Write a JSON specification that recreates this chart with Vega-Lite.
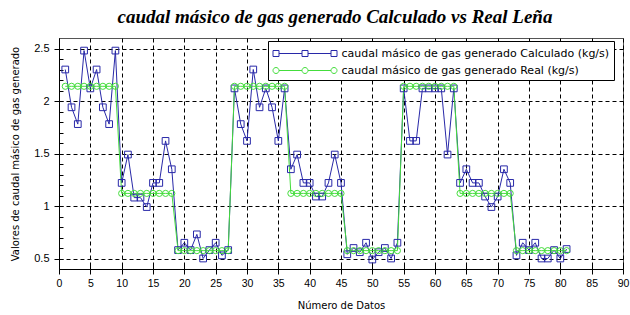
{
  "$schema": "https://vega.github.io/schema/vega-lite/v6.json",
  "width": 564,
  "height": 231,
  "autosize": {"type": "none"},
  "padding": {"left": 59, "top": 38, "right": 7, "bottom": 46},
  "background": "white",
  "title": {
    "text": "caudal másico de gas generado Calculado vs Real Leña",
    "font": "Liberation Serif",
    "fontStyle": "italic",
    "fontWeight": "bold",
    "fontSize": 19,
    "color": "black",
    "anchor": "middle",
    "baseline": "alphabetic",
    "offset": 16,
    "dx": -6,
    "dy": 20
  },
  "config": {
    "view": {"stroke": "#555555", "strokeWidth": 1},
    "axis": {
      "labelFont": "Liberation Sans",
      "labelColor": "black",
      "titleFont": "DejaVu Sans",
      "titleFontWeight": "normal",
      "titleColor": "black",
      "domainColor": "black",
      "tickColor": "black",
      "gridColor": "black",
      "gridOpacity": 1,
      "gridDash": [4, 3],
      "gridWidth": 1
    },
    "legend": {
      "orient": "none",
      "legendX": 209,
      "legendY": 3,
      "title": null,
      "labelFont": "DejaVu Sans",
      "labelFontSize": 11,
      "labelColor": "black",
      "labelLimit": 400,
      "strokeColor": "black",
      "fillColor": "white",
      "padding": 4,
      "rowPadding": 3,
      "symbolSize": 256,
      "symbolOffset": 24.5,
      "labelOffset": 28,
      "symbolStrokeWidth": 1
    }
  },
  "data": {
    "values": [
      {"n": 1, "calc": 2.30, "real": 2.14},
      {"n": 2, "calc": 1.94, "real": 2.14},
      {"n": 3, "calc": 1.78, "real": 2.14},
      {"n": 4, "calc": 2.48, "real": 2.14},
      {"n": 5, "calc": 2.12, "real": 2.14},
      {"n": 6, "calc": 2.30, "real": 2.14},
      {"n": 7, "calc": 1.94, "real": 2.14},
      {"n": 8, "calc": 1.78, "real": 2.14},
      {"n": 9, "calc": 2.48, "real": 2.14},
      {"n": 10, "calc": 1.22, "real": 1.12},
      {"n": 11, "calc": 1.49, "real": 1.12},
      {"n": 12, "calc": 1.08, "real": 1.12},
      {"n": 13, "calc": 1.08, "real": 1.12},
      {"n": 14, "calc": 0.99, "real": 1.12},
      {"n": 15, "calc": 1.22, "real": 1.12},
      {"n": 16, "calc": 1.22, "real": 1.12},
      {"n": 17, "calc": 1.62, "real": 1.12},
      {"n": 18, "calc": 1.35, "real": 1.12},
      {"n": 19, "calc": 0.58, "real": 0.575},
      {"n": 20, "calc": 0.65, "real": 0.575},
      {"n": 21, "calc": 0.58, "real": 0.575},
      {"n": 22, "calc": 0.73, "real": 0.575},
      {"n": 23, "calc": 0.50, "real": 0.575},
      {"n": 24, "calc": 0.58, "real": 0.575},
      {"n": 25, "calc": 0.65, "real": 0.575},
      {"n": 26, "calc": 0.53, "real": 0.575},
      {"n": 27, "calc": 0.58, "real": 0.575},
      {"n": 28, "calc": 2.12, "real": 2.14},
      {"n": 29, "calc": 1.78, "real": 2.14},
      {"n": 30, "calc": 1.62, "real": 2.14},
      {"n": 31, "calc": 2.30, "real": 2.14},
      {"n": 32, "calc": 1.94, "real": 2.14},
      {"n": 33, "calc": 2.12, "real": 2.14},
      {"n": 34, "calc": 1.94, "real": 2.14},
      {"n": 35, "calc": 1.62, "real": 2.14},
      {"n": 36, "calc": 2.12, "real": 2.14},
      {"n": 37, "calc": 1.35, "real": 1.12},
      {"n": 38, "calc": 1.49, "real": 1.12},
      {"n": 39, "calc": 1.22, "real": 1.12},
      {"n": 40, "calc": 1.22, "real": 1.12},
      {"n": 41, "calc": 1.09, "real": 1.12},
      {"n": 42, "calc": 1.09, "real": 1.12},
      {"n": 43, "calc": 1.22, "real": 1.12},
      {"n": 44, "calc": 1.49, "real": 1.12},
      {"n": 45, "calc": 1.22, "real": 1.12},
      {"n": 46, "calc": 0.54, "real": 0.575},
      {"n": 47, "calc": 0.60, "real": 0.575},
      {"n": 48, "calc": 0.56, "real": 0.575},
      {"n": 49, "calc": 0.65, "real": 0.575},
      {"n": 50, "calc": 0.49, "real": 0.575},
      {"n": 51, "calc": 0.56, "real": 0.575},
      {"n": 52, "calc": 0.60, "real": 0.575},
      {"n": 53, "calc": 0.50, "real": 0.575},
      {"n": 54, "calc": 0.65, "real": 0.575},
      {"n": 55, "calc": 2.12, "real": 2.14},
      {"n": 56, "calc": 1.62, "real": 2.14},
      {"n": 57, "calc": 1.62, "real": 2.14},
      {"n": 58, "calc": 2.12, "real": 2.14},
      {"n": 59, "calc": 2.12, "real": 2.14},
      {"n": 60, "calc": 2.12, "real": 2.14},
      {"n": 61, "calc": 2.12, "real": 2.14},
      {"n": 62, "calc": 1.49, "real": 2.14},
      {"n": 63, "calc": 2.12, "real": 2.14},
      {"n": 64, "calc": 1.22, "real": 1.12},
      {"n": 65, "calc": 1.35, "real": 1.12},
      {"n": 66, "calc": 1.22, "real": 1.12},
      {"n": 67, "calc": 1.22, "real": 1.12},
      {"n": 68, "calc": 1.09, "real": 1.12},
      {"n": 69, "calc": 0.99, "real": 1.12},
      {"n": 70, "calc": 1.09, "real": 1.12},
      {"n": 71, "calc": 1.35, "real": 1.12},
      {"n": 72, "calc": 1.22, "real": 1.12},
      {"n": 73, "calc": 0.53, "real": 0.575},
      {"n": 74, "calc": 0.65, "real": 0.575},
      {"n": 75, "calc": 0.58, "real": 0.575},
      {"n": 76, "calc": 0.65, "real": 0.575},
      {"n": 77, "calc": 0.50, "real": 0.575},
      {"n": 78, "calc": 0.50, "real": 0.575},
      {"n": 79, "calc": 0.58, "real": 0.575},
      {"n": 80, "calc": 0.50, "real": 0.575},
      {"n": 81, "calc": 0.59, "real": 0.575}
    ]
  },
  "transform": [
    {"fold": ["calc", "real"], "as": ["serie", "v"]}
  ],
  "layer": [
    {
      "mark": {"type": "line", "strokeWidth": 1},
      "encoding": {
        "x": {
          "field": "n", "type": "quantitative",
          "scale": {"domain": [0, 90], "nice": false, "zero": false},
          "axis": {
            "orient": "bottom",
            "values": [0, 5, 10, 15, 20, 25, 30, 35, 40, 45, 50, 55, 60, 65, 70, 75, 80, 85, 90],
            "grid": true,
            "tickSize": 5,
            "labelFontSize": 10.5,
            "labelPadding": 4,
            "labelFlush": false,
            "title": "Número de Datos",
            "titleFontSize": 10,
            "titlePadding": 12
          }
        },
        "y": {
          "field": "v", "type": "quantitative",
          "scale": {"domain": [0.4, 2.6], "nice": false, "zero": false},
          "axis": {
            "orient": "left",
            "values": [0.5, 1, 1.5, 2, 2.5],
            "format": "~g",
            "grid": true,
            "tickSize": 5,
            "labelFontSize": 11,
            "labelPadding": 5,
            "title": "Valores de caudal másico de gas generado",
            "titleFontSize": 10,
            "titlePadding": 13
          }
        },
        "color": {
          "field": "serie", "type": "nominal",
          "scale": {"domain": ["calc", "real"], "range": ["#2828a8", "#44dd3c"]},
          "legend": null
        }
      }
    },
    {
      "mark": {"type": "point", "filled": false, "strokeWidth": 1, "opacity": 1},
      "encoding": {
        "x": {
          "field": "n", "type": "quantitative",
          "scale": {"domain": [0, 90], "nice": false, "zero": false},
          "axis": {
            "orient": "bottom",
            "values": [0, 5, 10, 15, 20, 25, 30, 35, 40, 45, 50, 55, 60, 65, 70, 75, 80, 85, 90],
            "grid": false, "labels": false, "domain": false, "title": null,
            "tickSize": -5
          }
        },
        "y": {
          "field": "v", "type": "quantitative",
          "scale": {"domain": [0.4, 2.6], "nice": false, "zero": false},
          "axis": {
            "orient": "left",
            "values": [0.5, 0.6, 0.7, 0.8, 0.9, 1.0, 1.1, 1.2, 1.3, 1.4, 1.5, 1.6, 1.7, 1.8, 1.9, 2.0, 2.1, 2.2, 2.3, 2.4, 2.5],
            "grid": false, "labels": false, "domain": false, "title": null,
            "tickSize": -4
          }
        },
        "color": {
          "field": "serie", "type": "nominal",
          "scale": {"domain": ["calc", "real"], "range": ["#2828a8", "#44dd3c"]},
          "legend": {
            "labelExpr": "datum.value == 'calc' ? 'caudal másico de gas generado Calculado (kg/s)' : 'caudal másico de gas generado Real (kg/s)'",
            "symbolType": {"expr": "datum.value == 'calc' ? 'M-4,-0.375H-3.25V0.375H-4Z M-3.25,0H-0.375 M-0.375,-0.375H0.375V0.375H-0.375Z M0.375,0H3.25 M3.25,-0.375H4V0.375H3.25Z' : 'M-3.25,0A0.375,0.375 0 1 1 -4,0A0.375,0.375 0 1 1 -3.25,0Z M-3.25,0H-0.375 M0.375,0A0.375,0.375 0 1 1 -0.375,0A0.375,0.375 0 1 1 0.375,0Z M0.375,0H3.25 M4,0A0.375,0.375 0 1 1 3.25,0A0.375,0.375 0 1 1 4,0Z'"},
            "encode": {
              "symbols": {
                "update": {
                  "size": {"value": 256},
                  "fill": {"value": "transparent"},
                  "strokeWidth": {"value": 1}
                }
              }
            }
          }
        },
        "shape": {
          "field": "serie", "type": "nominal",
          "scale": {"domain": ["calc", "real"], "range": ["square", "circle"]},
          "legend": null
        },
        "size": {
          "field": "serie", "type": "nominal",
          "scale": {"domain": ["calc", "real"], "range": [45, 38]},
          "legend": null
        }
      }
    }
  ],
  "resolve": {"axis": {"x": "independent", "y": "independent"}, "legend": {"color": "independent"}}
}
